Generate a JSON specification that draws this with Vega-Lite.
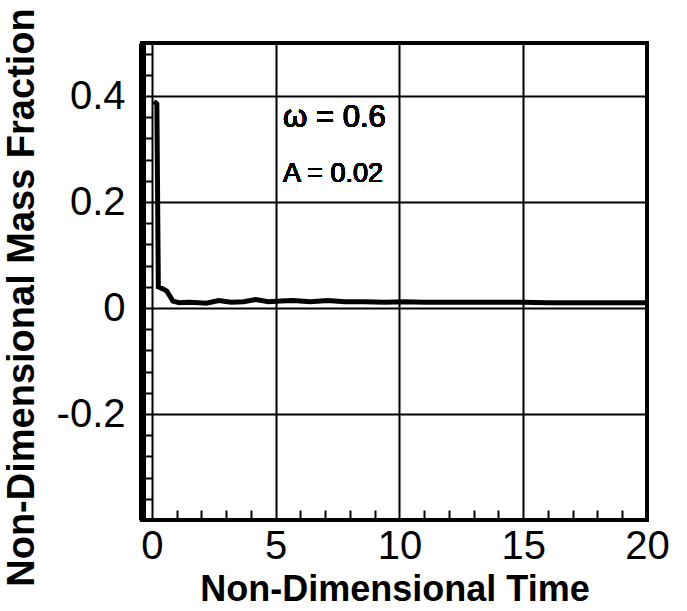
{
  "$schema": "https://vega.github.io/schema/vega-lite/v6.json",
  "width": 505,
  "height": 477,
  "autosize": "none",
  "padding": {"left": 142, "top": 43, "right": 40, "bottom": 91},
  "background": "white",
  "config": {
    "font": "Liberation Sans",
    "view": {"stroke": "black", "strokeWidth": 4},
    "axis": {"labelColor": "black", "titleColor": "black", "labelFont": "Liberation Sans", "titleFont": "Liberation Sans"}
  },
  "data": {
    "values": [
      {"t": 0.08, "v": 0.39},
      {"t": 0.2, "v": 0.385},
      {"t": 0.26, "v": 0.04},
      {"t": 0.45, "v": 0.036},
      {"t": 0.6, "v": 0.032},
      {"t": 0.85, "v": 0.013},
      {"t": 1.1, "v": 0.01},
      {"t": 1.5, "v": 0.011},
      {"t": 1.9, "v": 0.01},
      {"t": 2.2, "v": 0.009},
      {"t": 2.7, "v": 0.014},
      {"t": 3.2, "v": 0.011},
      {"t": 3.7, "v": 0.012},
      {"t": 4.2, "v": 0.016},
      {"t": 4.7, "v": 0.012},
      {"t": 5.2, "v": 0.013},
      {"t": 5.7, "v": 0.014},
      {"t": 6.4, "v": 0.012},
      {"t": 7.1, "v": 0.014},
      {"t": 7.8, "v": 0.012},
      {"t": 8.6, "v": 0.012},
      {"t": 9.4, "v": 0.011},
      {"t": 10.2, "v": 0.012},
      {"t": 11, "v": 0.011},
      {"t": 12, "v": 0.011},
      {"t": 13, "v": 0.011},
      {"t": 14, "v": 0.011},
      {"t": 15, "v": 0.011},
      {"t": 16, "v": 0.01},
      {"t": 17, "v": 0.01},
      {"t": 18, "v": 0.01},
      {"t": 19, "v": 0.01},
      {"t": 20, "v": 0.01}
    ]
  },
  "layer": [
    {
      "mark": {"type": "line", "color": "black", "strokeWidth": 5, "clip": true},
      "encoding": {
        "x": {
          "field": "t", "type": "quantitative",
          "scale": {"domain": [-0.4, 20], "nice": false, "zero": false},
          "axis": {
            "values": [0, 5, 10, 15, 20], "format": "d",
            "grid": true, "gridColor": "black", "gridWidth": 2, "gridOpacity": 1,
            "ticks": false, "domain": false,
            "labelFontSize": 40, "labelPadding": 6, "labelFlush": false, "labelOverlap": false,
            "title": "Non-Dimensional Time", "titleFontSize": 36, "titleFontWeight": "bold", "titlePadding": 6
          }
        },
        "y": {
          "field": "v", "type": "quantitative",
          "scale": {"domain": [-0.4, 0.5], "nice": false, "zero": false},
          "axis": {
            "values": [-0.2, 0, 0.2, 0.4],
            "labelExpr": "datum.value == 0 ? '0' : replace(datum.label, '−', '-')",
            "grid": true, "gridColor": "black", "gridWidth": 2, "gridOpacity": 1,
            "ticks": false, "domain": true, "domainColor": "black", "domainWidth": 7,
            "labelFontSize": 40, "labelPadding": 17, "labelFlush": false, "labelOverlap": false,
            "title": "Non-Dimensional Mass Fraction", "titleFontSize": 38, "titleFontWeight": "bold",
            "titlePadding": 15, "titleY": 254
          }
        }
      }
    },
    {
      "mark": {"type": "line", "strokeOpacity": 0},
      "encoding": {
        "x": {
          "field": "t", "type": "quantitative",
          "axis": {
            "orient": "bottom", "offset": -10,
            "values": [1, 2, 3, 4, 6, 7, 8, 9, 11, 12, 13, 14, 16, 17, 18, 19],
            "labels": false, "grid": false, "domain": false,
            "ticks": true, "tickSize": 10, "tickWidth": 2, "tickColor": "black", "title": null
          }
        },
        "y": {
          "field": "v", "type": "quantitative",
          "axis": {
            "orient": "left", "offset": -10,
            "values": [-0.36, -0.32, -0.28, -0.24, -0.16, -0.12, -0.08, -0.04, 0.04, 0.08, 0.12, 0.16, 0.24, 0.28, 0.32, 0.36, 0.44, 0.48],
            "labels": false, "grid": false, "domain": false,
            "ticks": true, "tickSize": 10, "tickWidth": 2, "tickColor": "black", "title": null
          }
        }
      }
    },
    {
      "mark": {"type": "text", "align": "left", "baseline": "alphabetic", "fontSize": 31, "fontWeight": 400, "fill": "black", "strokeWidth": 0, "font": "Liberation Sans"},
      "encoding": {
        "x": {"datum": 5.3, "type": "quantitative", "axis": null},
        "y": {"datum": 0.3415, "type": "quantitative", "axis": null},
        "text": {"value": "ω = 0.6"}
      }
    },
    {
      "mark": {"type": "text", "align": "left", "baseline": "alphabetic", "fontSize": 27, "fontWeight": 400, "fill": "black", "strokeWidth": 0, "font": "Liberation Sans"},
      "encoding": {
        "x": {"datum": 5.3, "type": "quantitative", "axis": null},
        "y": {"datum": 0.238, "type": "quantitative", "axis": null},
        "text": {"value": "A = 0.02"}
      }
    }
  ],
  "resolve": {"axis": {"x": "independent", "y": "independent"}}
}
